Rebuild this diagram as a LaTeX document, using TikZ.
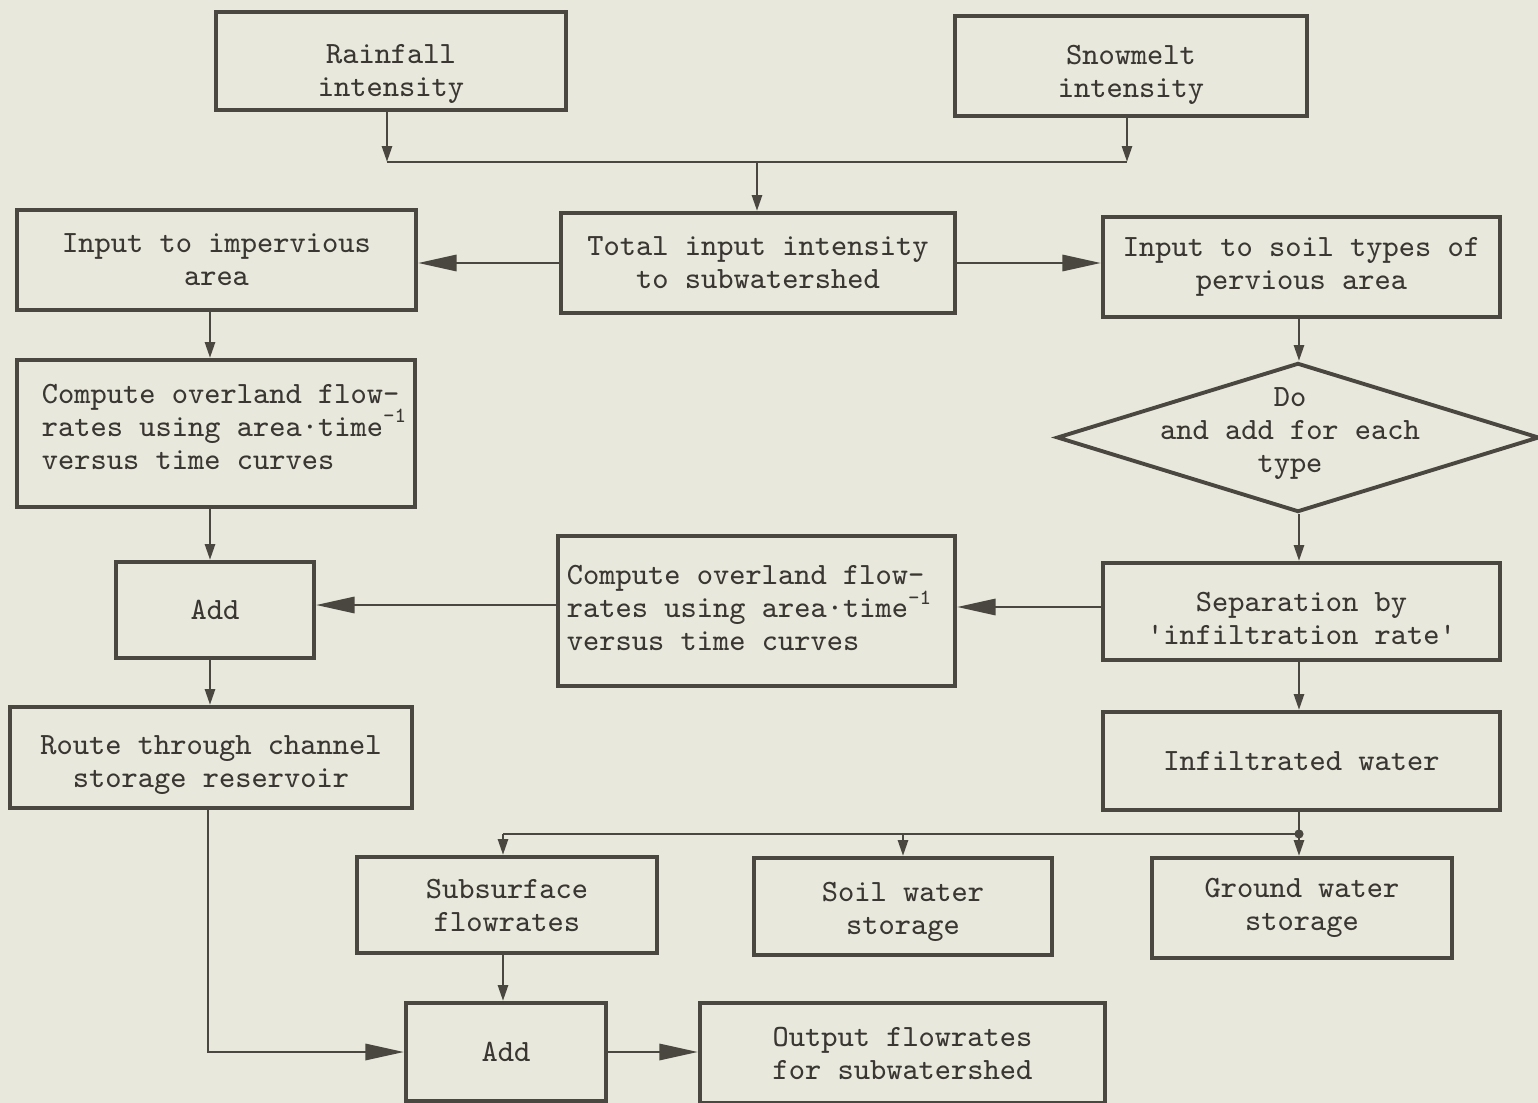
\documentclass[tikz,border=0pt]{standalone}
\usetikzlibrary{arrows.meta,shapes.geometric}
\definecolor{bg}{HTML}{E8E8DC}
\definecolor{ink}{HTML}{4A4640}
\definecolor{txt}{HTML}{3A3632}
\newcommand{\twol}[3]{\raisebox{#1}[\height][\depth]{\begin{tabular}{@{}c@{}}#2\\#3\end{tabular}}}
\newcommand{\compt}[2]{\raisebox{#2}[\height][\depth]{\makebox[#1][l]{\begin{tabular}{@{}l@{}}Compute overland flow-\\rates using area·time\smash{\textsuperscript{-1}}\\versus time curves\end{tabular}}}}
\begin{document}
\begin{tikzpicture}[x=0.01cm,y=-0.01cm,
  font=\ttfamily\fontsize{8.8}{9.4}\selectfont,
  box/.style={draw=ink, line width=1.1pt, rectangle, inner sep=0pt, align=center, text=txt},
  conn/.style={draw=ink, line width=0.8pt},
  harr/.style={-{Triangle[length=11pt,width=4.6pt]}},
  varr/.style={-{Triangle[length=4.5pt,width=2.8pt]}}]
\fill[bg] (0,0) rectangle (1538,1103);
\useasboundingbox (0,0) rectangle (1538,1103);

% nodes
\node[box, minimum width=3.50cm, minimum height=0.98cm] (rain) at (391,61) {\twol{-3.4pt}{Rainfall}{intensity}};
\node[box, minimum width=3.52cm, minimum height=1.00cm] (snow) at (1131,66) {\twol{-2.3pt}{Snowmelt}{intensity}};
\node[box, minimum width=3.99cm, minimum height=1.00cm] (imp) at (216.5,260) {Input to impervious\\area};
\node[box, minimum width=3.94cm, minimum height=1.00cm] (total) at (758,263) {Total input intensity\\to subwatershed};
\node[box, minimum width=3.97cm, minimum height=1.00cm] (soil) at (1301.5,267) {Input to soil types of\\pervious area};
\node[box, minimum width=3.98cm, minimum height=1.47cm] (comp1) at (216,433.5) {\compt{3.48cm}{1.1pt}};
\node[box, minimum width=1.98cm, minimum height=0.96cm] (add1) at (215,610) {Add};
\node[box, minimum width=3.97cm, minimum height=1.50cm] (comp2) at (756.5,611) {\compt{3.79cm}{0pt}};
\node[box, minimum width=4.02cm, minimum height=1.01cm] (route) at (211,757.5) {\twol{-2pt}{Route through channel}{storage reservoir}};
\node[draw=ink, line width=1.1pt, diamond, aspect=3.23, minimum width=4.82cm, minimum height=1.49cm, inner sep=0pt] (dia) at (1298,437.5) {};
\node[text=txt, align=center, inner sep=0pt] (diatxt) at (1290,434) {Do\\and add for each\\type};
\node[box, minimum width=3.97cm, minimum height=0.97cm] (sep) at (1301.5,611.5) {\twol{-2.8pt}{Separation by}{\textquotesingle infiltration rate\textquotesingle}};
\node[box, minimum width=3.97cm, minimum height=0.98cm] (infil) at (1301.5,761) {Infiltrated water};
\node[box, minimum width=3.00cm, minimum height=0.96cm] (subs) at (507,905) {Subsurface\\flowrates};
\node[box, minimum width=2.98cm, minimum height=0.97cm] (soilw) at (903,906.5) {\twol{-1.4pt}{Soil water}{storage}};
\node[box, minimum width=3.00cm, minimum height=1.00cm] (ground) at (1302,908) {Ground water\\storage};
\node[box, minimum width=2.00cm, minimum height=0.98cm] (add2) at (506,1052) {Add};
\node[box, minimum width=4.05cm, minimum height=1.00cm] (out) at (902.5,1053) {Output flowrates\\for subwatershed};

% connectors
\coordinate (j) at (757,162);
\coordinate (lsp) at (210,0);
\coordinate (rsp) at (1299,0);
\draw[conn, varr] (rain.south) ++(-4,0) coordinate (rs) -- (rs |- j);
\draw[conn, varr] (snow.south) ++(-4,0) coordinate (ss) -- (ss |- j);
\draw[conn] (rs |- j) -- (ss |- j);
\draw[conn, varr] (j) -- (j |- total.north);
\draw[conn, harr] (total.west) -- (total.west -| imp.east);
\draw[conn, harr] (total.east) -- (total.east -| soil.west);
\draw[conn, varr] (imp.south -| lsp) -- (comp1.north -| lsp);
\draw[conn, varr] (comp1.south -| lsp) -- (add1.north -| lsp);
\draw[conn, harr] (comp2.west |- 0,605) -- (add1.east |- 0,605);
\draw[conn, varr] (add1.south -| lsp) -- (route.north -| lsp);
\draw[conn, varr] (soil.south -| rsp) -- (dia.north -| rsp);
\draw[conn, varr] (dia.south -| rsp) -- (sep.north -| rsp);
\draw[conn, harr] (sep.west |- 0,607) -- (comp2.east |- 0,607);
\draw[conn, varr] (sep.south -| rsp) -- (infil.north -| rsp);
\path (infil.south -| rsp) ++(0,22) coordinate (b);
\draw[conn] (infil.south -| rsp) -- (b);
\draw[conn] (b) -- (b -| 503,0);
\draw[conn, varr] (b -| 503,0) -- (subs.north -| 503,0);
\draw[conn, varr] (b -| soilw.north) -- (soilw.north);
\draw[conn, varr] (b) -- (b |- ground.north);
\fill[ink] (b) circle[radius=1.3pt];
\draw[conn, varr] (subs.south -| 503,0) -- (add2.north -| 503,0);
\draw[conn, harr] (route.south -| 208,0) |- (add2.west);
\draw[conn, harr] (add2.east) -- (add2.east -| out.west);
\end{tikzpicture}
\end{document}
